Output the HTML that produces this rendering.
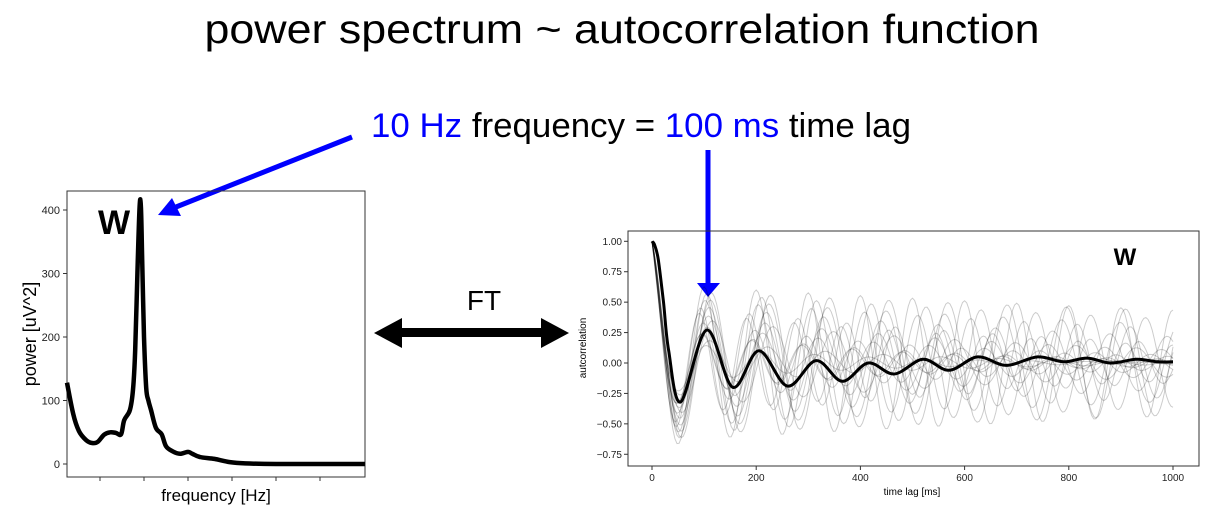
<!DOCTYPE html>
<html><head><meta charset="utf-8">
<style>
html,body{margin:0;padding:0;background:#fff;}
svg{display:block;font-family:"Liberation Sans",sans-serif;}
</style></head>
<body>
<svg id="root" width="1215" height="522" viewBox="0 0 1215 522">
  <text x="622" y="43" text-anchor="middle" font-size="41" textLength="835" lengthAdjust="spacingAndGlyphs">power spectrum ~ autocorrelation function</text>
  <text x="371" y="137" font-size="34" textLength="540" lengthAdjust="spacingAndGlyphs"><tspan fill="#0000ff">10 Hz</tspan> frequency = <tspan fill="#0000ff">100 ms</tspan> time lag</text>
  <g>
    <line x1="352" y1="137" x2="176" y2="207" stroke="#0000ff" stroke-width="5"/>
    <polygon points="158,215 172,198 181,216" fill="#0000ff"/>
  </g>
  <g>
    <line x1="708" y1="150" x2="708" y2="285" stroke="#0000ff" stroke-width="5"/>
    <polygon points="697,283 720,283 708,297" fill="#0000ff"/>
  </g>
  <text x="484" y="310" text-anchor="middle" font-size="28">FT</text>
  <g>
    <rect x="398" y="328" width="146" height="9" fill="#000"/>
    <polygon points="374,333 402,318 402,348" fill="#000"/>
    <polygon points="569,333 541,318 541,348" fill="#000"/>
  </g>
  <g id="left"></g>
  <g id="right"></g>
</svg>
<script>
// ---- power spectrum data ----
const psFreq = [-7.5,-6.1,-4.8,-3.2,-1.8,-0.5,0.9,2.3,3.6,4.8,5.5,6.8,7.5,8.0,8.5,9.0,9.3,9.6,10.0,10.5,11.0,11.6,12.7,14,15,16.5,18.2,20,21,22.7,26,29.5,33,40,50,60.2];
const psPower = [128,79,52,38,33,35,46,50,49,47,69,85,117,180,300,405,405,320,200,120,100,85,57,47,28,20,16,19,16,11,8,3,1,0,0,0];
const psYTicks = [0,100,200,300,400];
const psXTicks = [0,10,20,30,40,50];
// ---- autocorrelation data ----
const acLag = [0,5,12,22,32,55,105,155,205,260,315,365,415,465,520,570,625,680,740,790,835,880,930,970,1000];
const acMean = [1.0,0.97,0.85,0.5,0.1,-0.32,0.27,-0.2,0.1,-0.19,0.02,-0.15,0.0,-0.09,0.03,-0.06,0.05,-0.02,0.05,0.01,0.04,0.0,0.03,0.01,0.01];
const acYTicks = [-0.75,-0.5,-0.25,0,0.25,0.5,0.75,1.0];
const acXTicks = [0,200,400,600,800,1000];
// individual-trial trace parameters (frequency Hz, persistent amplitude, decay ms)
const traceFreq = [9.5,9.2,10.1,8.8,10.4,9.8,9.0,10.7,9.4,8.6,10.0,9.6,11.0,9.1,10.3,8.9];
const traceAmp  = [0.6,0.45,0.4,0.6,0.3,0.55,0.25,0.5,0.35,0.4,0.65,0.2,0.45,0.5,0.3,0.55];
const traceDecay= [2000,700,500,3000,400,1500,350,900,600,800,2500,300,900,1200,450,1800];

const NS='http://www.w3.org/2000/svg';
function mk(parent,tag,attrs){const e=document.createElementNS(NS,tag);for(const k in attrs)e.setAttribute(k,attrs[k]);parent.appendChild(e);return e;}
function smooth(P){
  let d='M'+P[0][0].toFixed(1)+','+P[0][1].toFixed(1);
  for(let i=0;i<P.length-1;i++){
    const p0=P[i?i-1:0],p1=P[i],p2=P[i+1],p3=P[i+2<P.length?i+2:i+1];
    const c1=[p1[0]+(p2[0]-p0[0])/6,p1[1]+(p2[1]-p0[1])/6];
    const c2=[p2[0]-(p3[0]-p1[0])/6,p2[1]-(p3[1]-p1[1])/6];
    d+='C'+c1.map(n=>n.toFixed(1))+' '+c2.map(n=>n.toFixed(1))+' '+p2[0].toFixed(1)+','+p2[1].toFixed(1);
  }
  return d;
}

// ---------- left chart ----------
(function(){
  const g=document.getElementById('left');
  const L=67,R=365,T=191,B=477;
  const x=f=>100+(f-0)*4.4;
  const y=p=>464-p*0.635;
  const frame=mk(g,'rect',{x:L,y:T,width:R-L,height:B-T,fill:'none',stroke:'#333','stroke-width':1});
  
  
  psYTicks.forEach(v=>{
    const t=mk(g,'line',{x1:L-4,x2:L,y1:y(v),y2:y(v),stroke:'#333'});
    
    
    const lb=mk(g,'text',{x:L-7,y:y(v)+4,'text-anchor':'end','font-size':11,fill:'#222'});
    lb.textContent=v;
    
    
  });
  psXTicks.forEach(v=>{
    const t=mk(g,'line',{x1:x(v),x2:x(v),y1:B,y2:B+4,stroke:'#333'});
    
    
  });
  const p=mk(g,'path',{d:smooth(psFreq.map((f,i)=>[x(f),y(psPower[i])])),fill:'none',stroke:'#000','stroke-width':4.5,'stroke-linejoin':'round'});
  
  
  const yl=mk(g,'text',{x:0,y:0,transform:'translate(36,334) rotate(-90)','text-anchor':'middle','font-size':18});
  yl.textContent='power [uV^2]';
  
  
  const xl=mk(g,'text',{x:216,y:501,'text-anchor':'middle','font-size':17});
  xl.textContent='frequency [Hz]';
  
  
  const w=mk(g,'text',{x:114,y:234,'text-anchor':'middle','font-size':34,'font-weight':'bold'});
  w.textContent='W';
  
  
})();

// ---------- right chart ----------
(function(){
  const g=document.getElementById('right');
  const L=628,R=1199,T=231,B=466;
  const x=t=>652+t*0.521;
  const y=v=>363-v*121.7;
  const frame=mk(g,'rect',{x:L,y:T,width:R-L,height:B-T,fill:'none',stroke:'#333','stroke-width':1});
  
  
  acYTicks.forEach(v=>{
    const t=mk(g,'line',{x1:L-4,x2:L,y1:y(v),y2:y(v),stroke:'#333'});
    
    
    const lb=mk(g,'text',{x:L-6,y:y(v)+3.5,'text-anchor':'end','font-size':10,fill:'#222'});
    lb.textContent=(v<0?'\u2212':'')+Math.abs(v).toFixed(2);
    
    
  });
  acXTicks.forEach(v=>{
    const t=mk(g,'line',{x1:x(v),x2:x(v),y1:B,y2:B+4,stroke:'#333'});
    
    
    const lb=mk(g,'text',{x:x(v),y:B+15,'text-anchor':'middle','font-size':10,fill:'#222'});
    lb.textContent=v;
    
    
  });
  traceFreq.forEach((f,k)=>{
    let d='';
    for(let t=0;t<=1000;t+=4){
      const v=(1-traceAmp[k])*Math.exp(-t/22)*Math.cos(2*Math.PI*f*t/1000*0.8)+traceAmp[k]*Math.exp(-t/traceDecay[k])*Math.cos(2*Math.PI*f*t/1000);
      d+=(t?'L':'M')+x(t).toFixed(1)+','+y(v).toFixed(1);
    }
    const p=mk(g,'path',{d:d,fill:'none',stroke:'rgba(0,0,0,0.2)','stroke-width':1});
    
    
  });
  const m=mk(g,'path',{d:smooth(acLag.map((t,i)=>[x(t),y(acMean[i])])),fill:'none',stroke:'#000','stroke-width':3,'stroke-linejoin':'round'});
  
  
  const yl=mk(g,'text',{x:0,y:0,transform:'translate(586,348) rotate(-90)','text-anchor':'middle','font-size':10});
  yl.textContent='autcorrelation';
  
  
  const xl=mk(g,'text',{x:912,y:495,'text-anchor':'middle','font-size':10});
  xl.textContent='time lag [ms]';
  
  
  const w=mk(g,'text',{x:1125,y:265,'text-anchor':'middle','font-size':24,'font-weight':'bold'});
  w.textContent='W';
  
  
})();
</script>
</body></html>
